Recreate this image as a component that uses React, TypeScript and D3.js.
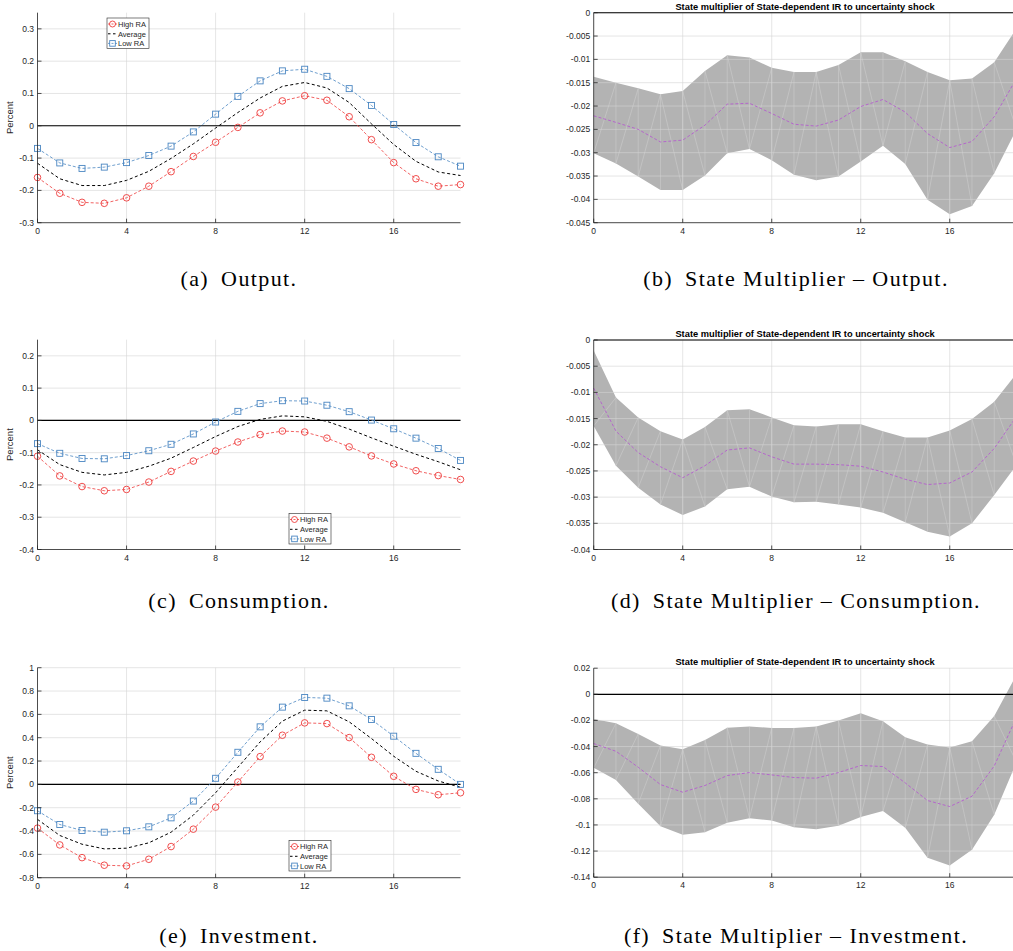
import React from 'react';
import * as d3 from 'd3';

// Horizon (quarters after the shock)
const horizon = [0, 1, 2, 3, 4, 5, 6, 7, 8, 9, 10, 11, 12, 13, 14, 15, 16, 17, 18, 19];
const xTicks = [0, 4, 8, 12, 16];

// Impulse responses, percent deviation
const outputHighRA = [-0.160, -0.209, -0.237, -0.240, -0.223, -0.187, -0.142, -0.095, -0.051, -0.005, 0.040, 0.077, 0.093, 0.079, 0.028, -0.043, -0.114, -0.164, -0.187, -0.182];
const outputAverage = [-0.116, -0.164, -0.185, -0.185, -0.169, -0.141, -0.101, -0.056, -0.007, 0.041, 0.086, 0.122, 0.134, 0.117, 0.072, 0.006, -0.058, -0.110, -0.143, -0.154];
const outputLowRA = [-0.070, -0.115, -0.132, -0.128, -0.114, -0.092, -0.063, -0.019, 0.036, 0.091, 0.139, 0.170, 0.175, 0.153, 0.115, 0.063, 0.004, -0.052, -0.096, -0.125];
const outputYTicks = [-0.3, -0.2, -0.1, 0, 0.1, 0.2, 0.3];

const consHighRA = [-0.111, -0.172, -0.205, -0.218, -0.214, -0.191, -0.158, -0.126, -0.095, -0.067, -0.044, -0.033, -0.036, -0.055, -0.082, -0.110, -0.135, -0.156, -0.171, -0.183];
const consAverage = [-0.091, -0.137, -0.161, -0.169, -0.161, -0.142, -0.117, -0.084, -0.050, -0.019, 0.003, 0.014, 0.011, -0.003, -0.027, -0.054, -0.080, -0.105, -0.128, -0.153];
const consLowRA = [-0.072, -0.102, -0.118, -0.119, -0.109, -0.094, -0.074, -0.042, -0.005, 0.028, 0.052, 0.061, 0.060, 0.047, 0.027, 0.001, -0.026, -0.055, -0.087, -0.124];
const consYTicks = [-0.4, -0.3, -0.2, -0.1, 0, 0.1, 0.2];

const invHighRA = [-0.375, -0.519, -0.628, -0.693, -0.699, -0.642, -0.533, -0.384, -0.195, 0.020, 0.238, 0.421, 0.527, 0.521, 0.401, 0.232, 0.069, -0.043, -0.089, -0.072];
const invAverage = [-0.300, -0.438, -0.513, -0.553, -0.547, -0.501, -0.410, -0.264, -0.072, 0.146, 0.364, 0.542, 0.636, 0.630, 0.536, 0.393, 0.241, 0.112, 0.029, -0.025];
const invLowRA = [-0.226, -0.344, -0.395, -0.410, -0.398, -0.364, -0.287, -0.143, 0.052, 0.275, 0.493, 0.662, 0.745, 0.739, 0.673, 0.556, 0.413, 0.266, 0.129, 0.000];
const invYTicks = [-0.8, -0.6, -0.4, -0.2, 0, 0.2, 0.4, 0.6, 0.8, 1];

// State multipliers: lower bound, point estimate, upper bound
const outMultLower = [-0.0301, -0.0323, -0.0351, -0.0380, -0.0380, -0.0349, -0.0301, -0.0292, -0.0316, -0.0347, -0.0359, -0.0351, -0.0319, -0.0285, -0.0324, -0.0401, -0.0432, -0.0414, -0.0344, -0.0250];
const outMultMean = [-0.0221, -0.0235, -0.0250, -0.0277, -0.0273, -0.0241, -0.0196, -0.0194, -0.0216, -0.0239, -0.0243, -0.0230, -0.0201, -0.0186, -0.0213, -0.0259, -0.0289, -0.0276, -0.0223, -0.0141];
const outMultUpper = [-0.0137, -0.0150, -0.0162, -0.0175, -0.0168, -0.0125, -0.0091, -0.0096, -0.0118, -0.0127, -0.0127, -0.0112, -0.0085, -0.0085, -0.0104, -0.0127, -0.0145, -0.0141, -0.0106, -0.0034];
const outMultYTicks = [-0.045, -0.04, -0.035, -0.03, -0.025, -0.02, -0.015, -0.01, -0.005, 0];

const consMultLower = [-0.0164, -0.0240, -0.0282, -0.0314, -0.0334, -0.0318, -0.0285, -0.0280, -0.0299, -0.0310, -0.0309, -0.0314, -0.0320, -0.0330, -0.0348, -0.0366, -0.0375, -0.0350, -0.0296, -0.0239];
const consMultMean = [-0.0092, -0.0174, -0.0215, -0.0242, -0.0263, -0.0240, -0.0210, -0.0206, -0.0223, -0.0237, -0.0237, -0.0238, -0.0241, -0.0252, -0.0266, -0.0276, -0.0273, -0.0252, -0.0207, -0.0146];
const consMultUpper = [-0.0020, -0.0110, -0.0148, -0.0174, -0.0190, -0.0166, -0.0134, -0.0132, -0.0148, -0.0163, -0.0165, -0.0161, -0.0161, -0.0174, -0.0186, -0.0186, -0.0173, -0.0151, -0.0118, -0.0064];
const consMultYTicks = [-0.04, -0.035, -0.03, -0.025, -0.02, -0.015, -0.01, -0.005, 0];

const invMultLower = [-0.0563, -0.0655, -0.0838, -0.1009, -0.1075, -0.1055, -0.0984, -0.0948, -0.0966, -0.1017, -0.1032, -0.1006, -0.0940, -0.0894, -0.1022, -0.1251, -0.1310, -0.1190, -0.0922, -0.0520];
const invMultMean = [-0.0377, -0.0436, -0.0558, -0.0691, -0.0749, -0.0698, -0.0622, -0.0599, -0.0617, -0.0637, -0.0642, -0.0599, -0.0545, -0.0553, -0.0678, -0.0813, -0.0859, -0.0780, -0.0548, -0.0176];
const invMultUpper = [-0.0189, -0.0222, -0.0303, -0.0392, -0.0420, -0.0349, -0.0255, -0.0247, -0.0257, -0.0257, -0.0247, -0.0201, -0.0145, -0.0206, -0.0329, -0.0385, -0.0408, -0.0359, -0.0166, 0.0150];
const invMultYTicks = [-0.14, -0.12, -0.1, -0.08, -0.06, -0.04, -0.02, 0, 0.02];

const legendLabels = ['High RA', 'Average', 'Low RA'];
const multTitle = 'State multiplier of State-dependent IR to uncertainty shock';
const captionLabels = ['(a)', '(b)', '(c)', '(d)', '(e)', '(f)'];
const captionTexts = [
  'Output.',
  'State Multiplier \u2013 Output.',
  'Consumption.',
  'State Multiplier \u2013 Consumption.',
  'Investment.',
  'State Multiplier \u2013 Investment.',
];

const W = 1013;
const H = 951;
const AXIS = '#262626';
const RED = '#ee3b3b';
const BLUE = '#4a86c2';
const PURPLE = '#b566cc';
const BAND = '#b3b3b3';
const SANS = 'Liberation Sans, Arial, Helvetica, sans-serif';
const SERIF = 'Liberation Serif, Times New Roman, serif';

const fmt = (v: number) => String(+v.toFixed(4));

type Frame = { left: number; right: number; top: number; bottom: number; yDomain: [number, number] };

function Axes({ f, yTicks, x, y }: { f: Frame; yTicks: number[]; x: d3.ScaleLinear<number, number>; y: d3.ScaleLinear<number, number> }) {
  return (
    <g>
      <line x1={f.left} x2={f.left} y1={f.top} y2={f.bottom} stroke={AXIS} strokeWidth={0.8} />
      <line x1={f.left} x2={f.right} y1={f.bottom} y2={f.bottom} stroke={AXIS} strokeWidth={0.8} />
      {yTicks.map((t) => (
        <g key={'y' + t}>
          <line x1={f.left} x2={f.left + 4} y1={y(t)} y2={y(t)} stroke={AXIS} strokeWidth={0.8} />
          <text x={f.left - 3.5} y={y(t) + 3} textAnchor="end" fontSize={8.5} fontFamily={SANS} fill={AXIS}>{fmt(t)}</text>
        </g>
      ))}
      {xTicks.map((t) => (
        <g key={'x' + t}>
          <line x1={x(t)} x2={x(t)} y1={f.bottom} y2={f.bottom - 4} stroke={AXIS} strokeWidth={0.8} />
          <text x={x(t)} y={f.bottom + 11} textAnchor="middle" fontSize={8.5} fontFamily={SANS} fill={AXIS}>{fmt(t)}</text>
        </g>
      ))}
    </g>
  );
}

function Grid({ f, yTicks, x, y }: { f: Frame; yTicks: number[]; x: d3.ScaleLinear<number, number>; y: d3.ScaleLinear<number, number> }) {
  return (
    <g stroke="#d4d4d4" strokeOpacity={0.6} strokeWidth={1}>
      {yTicks.map((t) => (
        <line key={'gy' + t} x1={f.left} x2={f.right} y1={y(t)} y2={y(t)} />
      ))}
      {xTicks.map((t) => (
        <line key={'gx' + t} x1={x(t)} x2={x(t)} y1={f.top} y2={f.bottom} />
      ))}
    </g>
  );
}

function Legend({ lx, ly }: { lx: number; ly: number }) {
  const rows = [ly + 6, ly + 15.8, ly + 25.4];
  return (
    <g>
      <rect x={lx} y={ly} width={42} height={30.5} fill="#fff" stroke={AXIS} strokeWidth={0.6} />
      <line x1={lx + 1} x2={lx + 10} y1={rows[0]} y2={rows[0]} stroke={RED} strokeWidth={0.8} strokeDasharray="2 1.5" />
      <circle cx={lx + 5.5} cy={rows[0]} r={3} fill="none" stroke={RED} strokeWidth={0.9} />
      <line x1={lx + 1} x2={lx + 10} y1={rows[1]} y2={rows[1]} stroke="#000" strokeWidth={1} strokeDasharray="2.5 2.5" />
      <line x1={lx + 1} x2={lx + 10} y1={rows[2]} y2={rows[2]} stroke={BLUE} strokeWidth={0.8} strokeDasharray="2 1.5" />
      <rect x={lx + 2.7} y={rows[2] - 2.8} width={5.6} height={5.6} fill="none" stroke={BLUE} strokeWidth={0.9} />
      {legendLabels.map((l, i) => (
        <text key={l} x={lx + 11} y={rows[i] + 2.7} fontSize={7.5} fontFamily={SANS} fill={AXIS}>{l}</text>
      ))}
    </g>
  );
}

function ResponsePanel({ f, yTicks, high, avg, low, legend }: { f: Frame; yTicks: number[]; high: number[]; avg: number[]; low: number[]; legend: [number, number] }) {
  const x = d3.scaleLinear().domain([0, 19]).range([f.left, f.right]);
  const y = d3.scaleLinear().domain(f.yDomain).range([f.bottom, f.top]);
  const line = d3.line<number>().x((_, i) => x(horizon[i])).y((d) => y(d));
  return (
    <g>
      <Grid f={f} yTicks={yTicks} x={x} y={y} />
      <line x1={f.left} x2={f.right} y1={y(0)} y2={y(0)} stroke="#000" strokeWidth={1.1} />
      <path d={line(avg) || ''} fill="none" stroke="#000" strokeWidth={1} strokeDasharray="3 2.5" />
      <path d={line(high) || ''} fill="none" stroke={RED} strokeWidth={0.8} strokeDasharray="3 2" />
      <path d={line(low) || ''} fill="none" stroke={BLUE} strokeWidth={0.8} strokeDasharray="3 2" />
      {high.map((v, i) => (
        <circle key={'h' + i} cx={x(horizon[i])} cy={y(v)} r={3.3} fill="none" stroke={RED} strokeWidth={0.9} />
      ))}
      {low.map((v, i) => (
        <rect key={'l' + i} x={x(horizon[i]) - 3} y={y(v) - 3} width={6} height={6} fill="none" stroke={BLUE} strokeWidth={0.9} />
      ))}
      <Axes f={f} yTicks={yTicks} x={x} y={y} />
      <text
        transform={`translate(${f.left - 24.5},${(f.top + f.bottom) / 2}) rotate(-90)`}
        textAnchor="middle"
        fontSize={9.5}
        fontFamily={SANS}
        fill={AXIS}
      >
        Percent
      </text>
      <Legend lx={legend[0]} ly={legend[1]} />
    </g>
  );
}

function MultiplierPanel({ f, yTicks, lower, mean, upper }: { f: Frame; yTicks: number[]; lower: number[]; mean: number[]; upper: number[] }) {
  const x = d3.scaleLinear().domain([0, 19]).range([f.left, f.right]);
  const y = d3.scaleLinear().domain(f.yDomain).range([f.bottom, f.top]);
  const band = d3
    .area<number>()
    .x((_, i) => x(horizon[i]))
    .y0((_, i) => y(lower[i]))
    .y1((d) => y(d));
  const line = d3.line<number>().x((_, i) => x(horizon[i])).y((d) => y(d));

  // Patch seams of the filled band: one vertical edge per horizon and the
  // shorter diagonal of every quadrilateral between neighbouring horizons.
  const seams: [number, number, number, number][] = [];
  horizon.forEach((h, i) => {
    seams.push([x(h), y(upper[i]), x(h), y(lower[i])]);
    if (i < horizon.length - 1) {
      const xa = x(h);
      const xb = x(horizon[i + 1]);
      const d1 = Math.abs(y(upper[i]) - y(lower[i + 1]));
      const d2 = Math.abs(y(lower[i]) - y(upper[i + 1]));
      if (d1 < d2) seams.push([xa, y(upper[i]), xb, y(lower[i + 1])]);
      else seams.push([xa, y(lower[i]), xb, y(upper[i + 1])]);
    }
  });

  return (
    <g>
      <path d={band(upper) || ''} fill={BAND} stroke="none" />
      <Grid f={f} yTicks={yTicks} x={x} y={y} />
      <g stroke="#d2d2d2" strokeWidth={0.6} strokeOpacity={0.8}>
        {seams.map((s, i) => (
          <line key={i} x1={s[0]} y1={s[1]} x2={s[2]} y2={s[3]} />
        ))}
      </g>
      <line x1={f.left} x2={f.right} y1={y(0)} y2={y(0)} stroke="#000" strokeWidth={1.1} />
      <path d={line(mean) || ''} fill="none" stroke={PURPLE} strokeWidth={1} strokeDasharray="3 2" />
      <Axes f={f} yTicks={yTicks} x={x} y={y} />
      <text x={(f.left + f.right) / 2} y={f.top - 3} textAnchor="middle" fontSize={9.3} fontWeight="bold" fontFamily={SANS} fill="#000">
        {multTitle}
      </text>
    </g>
  );
}

function Caption({ cx, baseline, idx }: { cx: number; baseline: number; idx: number }) {
  return (
    <text x={cx} y={baseline} textAnchor="middle" fontSize={22} fontFamily={SERIF} fill="#000" letterSpacing={1.4}>
      <tspan>{captionLabels[idx]}</tspan>
      <tspan dx={12}>{captionTexts[idx]}</tspan>
    </text>
  );
}

const LEFT_X: [number, number] = [37.5, 460.5];
const RIGHT_X: [number, number] = [593.7, 1016.5];

export default function App() {
  const fa: Frame = { left: LEFT_X[0], right: LEFT_X[1], top: 12.7, bottom: 222.7, yDomain: [-0.3, 0.35] };
  const fb: Frame = { left: RIGHT_X[0], right: RIGHT_X[1], top: 12.7, bottom: 222.7, yDomain: [-0.045, 0] };
  const fc: Frame = { left: LEFT_X[0], right: LEFT_X[1], top: 339.7, bottom: 549.5, yDomain: [-0.4, 0.25] };
  const fd: Frame = { left: RIGHT_X[0], right: RIGHT_X[1], top: 340, bottom: 549.5, yDomain: [-0.04, 0] };
  const fe: Frame = { left: LEFT_X[0], right: LEFT_X[1], top: 667.7, bottom: 877.7, yDomain: [-0.8, 1] };
  const ff: Frame = { left: RIGHT_X[0], right: RIGHT_X[1], top: 668.2, bottom: 877.2, yDomain: [-0.14, 0.02] };

  return (
    <svg
      width={W}
      height={H}
      viewBox={`0 0 ${W} ${H}`}
      style={{ position: 'absolute', left: 0, top: 0, display: 'block', background: '#fff' }}
    >
      <ResponsePanel f={fa} yTicks={outputYTicks} high={outputHighRA} avg={outputAverage} low={outputLowRA} legend={[107, 18]} />
      <MultiplierPanel f={fb} yTicks={outMultYTicks} lower={outMultLower} mean={outMultMean} upper={outMultUpper} />
      <ResponsePanel f={fc} yTicks={consYTicks} high={consHighRA} avg={consAverage} low={consLowRA} legend={[289, 513.5]} />
      <MultiplierPanel f={fd} yTicks={consMultYTicks} lower={consMultLower} mean={consMultMean} upper={consMultUpper} />
      <ResponsePanel f={fe} yTicks={invYTicks} high={invHighRA} avg={invAverage} low={invLowRA} legend={[289, 840.5]} />
      <MultiplierPanel f={ff} yTicks={invMultYTicks} lower={invMultLower} mean={invMultMean} upper={invMultUpper} />
      <Caption cx={239} baseline={286} idx={0} />
      <Caption cx={796} baseline={286} idx={1} />
      <Caption cx={239} baseline={608} idx={2} />
      <Caption cx={796} baseline={608} idx={3} />
      <Caption cx={239} baseline={943} idx={4} />
      <Caption cx={796} baseline={943} idx={5} />
    </svg>
  );
}
